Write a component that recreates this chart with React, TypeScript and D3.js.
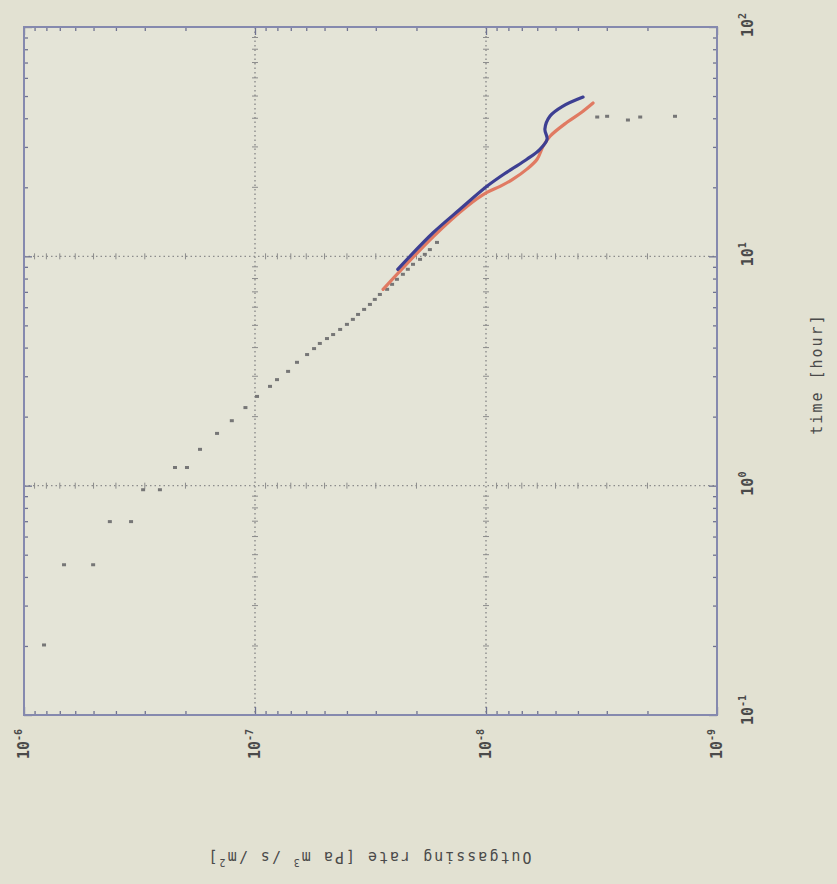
import React, { useRef, useEffect } from "react";
import * as d3 from "d3";

const W = 837;
const H = 884;
const box = { left: 24, right: 717, top: 27, bottom: 715 };

// axis decades and their exponent labels
const rateDecades = [1e-6, 1e-7, 1e-8, 1e-9];
const rateExponents = ["-6", "-7", "-8", "-9"];
const timeDecades = [0.1, 1, 10, 100];
const timeExponents = ["-1", "0", "1", "2"];

// sparse measured points (hour, Pa m3/s/m2)
const dotTime = [
  0.202, 0.452, 0.452, 0.697, 0.697, 0.96, 0.96, 1.2, 1.2, 1.44, 1.69, 1.92, 2.19,
  2.45, 2.71, 2.9, 3.15, 3.45, 3.73, 3.96, 4.17, 4.38, 4.56, 4.8, 5.05, 5.31, 5.58,
  5.87, 6.17, 6.49, 6.82, 7.18, 7.55, 7.94, 8.35, 8.78, 9.23, 9.7, 10.2, 10.7, 11.5,
  40.5, 40.8, 39.3, 40.5, 40.8,
];
const dotRate = [
  8.19e-7, 6.71e-7, 5.02e-7, 4.25e-7, 3.44e-7, 3.05e-7, 2.58e-7, 2.22e-7, 1.97e-7,
  1.73e-7, 1.46e-7, 1.26e-7, 1.1e-7, 9.8e-8, 8.61e-8, 8.03e-8, 7.19e-8, 6.58e-8,
  5.95e-8, 5.55e-8, 5.24e-8, 4.88e-8, 4.59e-8, 4.28e-8, 4.0e-8, 3.77e-8, 3.58e-8,
  3.37e-8, 3.18e-8, 3.03e-8, 2.88e-8, 2.68e-8, 2.55e-8, 2.43e-8, 2.29e-8, 2.18e-8,
  2.07e-8, 1.93e-8, 1.84e-8, 1.75e-8, 1.63e-8,
  3.3e-9, 2.99e-9, 2.43e-9, 2.15e-9, 1.52e-9,
];

// continuous runs
const redTime = [7.18, 12.2, 16.5, 19.0, 20.2, 21.7, 24.0, 26.5, 30.2, 33.4, 38.4, 42.6, 46.6];
const redRate = [2.79e-8, 1.69e-8, 1.21e-8, 9.91e-9, 8.69e-9, 7.64e-9, 6.65e-9, 6.01e-9, 5.66e-9, 5.28e-9, 4.46e-9, 3.84e-9, 3.44e-9];
const blueTime = [8.78, 12.7, 16.0, 20.2, 23.3, 26.5, 29.3, 32.4, 35.9, 40.9, 45.2, 49.5];
const blueRate = [2.41e-8, 1.69e-8, 1.3e-8, 9.91e-9, 8.11e-9, 6.65e-9, 5.84e-9, 5.44e-9, 5.56e-9, 5.28e-9, 4.64e-9, 3.8e-9];

const font = "'DejaVu Sans Mono', monospace";
const ink = "#4a4a4a";

const minorOf = (decades) => {
  const out = [];
  const lo = Math.min(...decades);
  const hi = Math.max(...decades);
  decades.forEach((d) => {
    for (let k = 2; k <= 9; k++) {
      const v = d * k;
      if (v > lo && v < hi) out.push(v);
    }
  });
  return out;
};

const App = () => {
  const axesRef = useRef(null);

  // rate runs left->right (high to low), time runs bottom->top
  const x = d3.scaleLog().domain([1e-6, 1e-9]).range([box.left, box.right]);
  const y = d3.scaleLog().domain([0.1, 100]).range([box.bottom, box.top]);

  const rateMinor = minorOf(rateDecades);
  const timeMinor = minorOf(timeDecades);

  useEffect(() => {
    const g = d3.select(axesRef.current);
    g.selectAll("*").remove();

    const frameTicks = (axis, tx, ty, values, size) => {
      const a = g.append("g")
        .attr("transform", `translate(${tx},${ty})`)
        .call(axis.tickValues(values).tickSize(size).tickSizeOuter(0).tickFormat(() => ""));
      a.select(".domain").remove();
      a.selectAll("line").attr("stroke", "#6f7290").attr("stroke-width", 1.3);
    };

    frameTicks(d3.axisBottom(x), 0, box.bottom, rateMinor, -4);
    frameTicks(d3.axisBottom(x), 0, box.bottom, rateDecades, -8);
    frameTicks(d3.axisTop(x), 0, box.top, rateMinor, -4);
    frameTicks(d3.axisTop(x), 0, box.top, rateDecades, -8);
    frameTicks(d3.axisLeft(y), box.left, 0, timeMinor, -4);
    frameTicks(d3.axisLeft(y), box.left, 0, timeDecades, -8);
    frameTicks(d3.axisRight(y), box.right, 0, timeMinor, -4);
    frameTicks(d3.axisRight(y), box.right, 0, timeDecades, -8);
  }, []);

  const line = d3.line().x((d) => x(d[1])).y((d) => y(d[0])).curve(d3.curveCatmullRom.alpha(0.5));
  const red = redTime.map((t, i) => [t, redRate[i]]);
  const blue = blueTime.map((t, i) => [t, blueRate[i]]);

  const innerRate = rateDecades.filter((d) => d < 1e-6 && d > 1e-9);
  const innerTime = timeDecades.filter((d) => d > 0.1 && d < 100);

  return (
    <svg width={W} height={H} style={{ position: "absolute", left: 0, top: 0, display: "block" }}>
      <rect width={W} height={H} fill="#e2e1d2" />
      <rect x={box.left} y={box.top} width={box.right - box.left} height={box.bottom - box.top} fill="#e4e4d7" />

      {/* dotted grid with small ticks along it */}
      <g stroke="#8c8c8c" strokeWidth={1.4}>
        {innerRate.map((r) => (
          <g key={"gx" + r}>
            <line x1={x(r)} x2={x(r)} y1={box.top} y2={box.bottom} strokeDasharray="1.5,3" />
            {timeMinor.map((t) => (
              <line key={t} x1={x(r) - 3} x2={x(r) + 3} y1={y(t)} y2={y(t)} strokeWidth={1} />
            ))}
          </g>
        ))}
        {innerTime.map((t) => (
          <g key={"gy" + t}>
            <line x1={box.left} x2={box.right} y1={y(t)} y2={y(t)} strokeDasharray="1.5,3" />
            {rateMinor.map((r) => (
              <line key={r} x1={x(r)} x2={x(r)} y1={y(t) - 3} y2={y(t) + 3} strokeWidth={1} />
            ))}
          </g>
        ))}
      </g>

      <g ref={axesRef} />
      <rect x={box.left} y={box.top} width={box.right - box.left} height={box.bottom - box.top}
        fill="none" stroke="#8589ae" strokeWidth={2} />

      {/* data */}
      <g fill="#767676">
        {dotTime.map((t, i) => (
          <rect key={i} x={x(dotRate[i]) - 2} y={y(t) - 1.5} width={4} height={3} />
        ))}
      </g>
      <path d={line(red)} fill="none" stroke="#e07a62" strokeWidth={3.2} strokeLinecap="round" strokeLinejoin="round" />
      <path d={line(blue)} fill="none" stroke="#3d3f92" strokeWidth={3.2} strokeLinecap="round" strokeLinejoin="round" />

      {/* tick labels */}
      <g fontFamily={font} fill={ink} fontSize={15} fontWeight="bold">
        {rateDecades.map((r, i) => (
          <text key={r} transform={`translate(${x(r) + 5},729) rotate(-90)`} textAnchor="end">
            10<tspan fontSize={10} dy={-7}>{rateExponents[i]}</tspan>
          </text>
        ))}
        {timeDecades.map((t, i) => (
          <text key={t} transform={`translate(753,${y(t) + 10}) rotate(-90)`} textAnchor="start">
            10<tspan fontSize={10} dy={-7}>{timeExponents[i]}</tspan>
          </text>
        ))}
      </g>
      <g fontFamily={font} fill={ink} fontSize={15}>
        <text transform="translate(822,374) rotate(-90)" textAnchor="middle" letterSpacing={2}>
          time [hour]
        </text>
        <text transform="translate(369,852) rotate(180)" textAnchor="middle" letterSpacing={2}>
          Outgassing rate [Pa m<tspan fontSize={10} dy={-7}>3</tspan><tspan dy={7}> /s /m</tspan>
          <tspan fontSize={10} dy={-7}>2</tspan><tspan dy={7}>]</tspan>
        </text>
      </g>
    </svg>
  );
};

export default App;
